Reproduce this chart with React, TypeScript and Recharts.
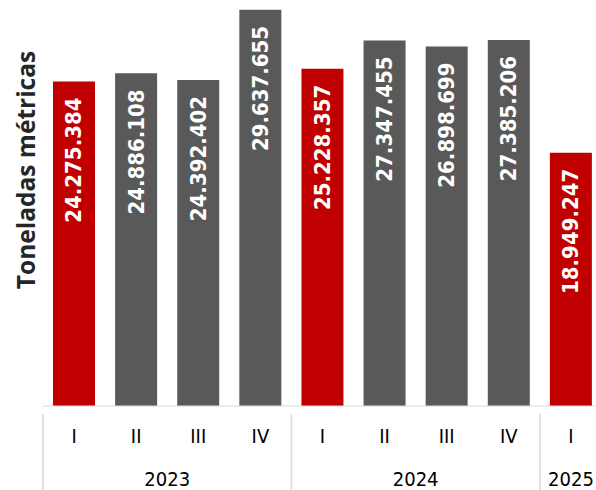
import React from 'react';
import { BarChart, Bar, XAxis, YAxis, Cell, LabelList } from 'recharts';

// quarterly volumes (metric tons)
const quarters = ['I', 'II', 'III', 'IV', 'I', 'II', 'III', 'IV', 'I'];
const years = ['2023', '2023', '2023', '2023', '2024', '2024', '2024', '2024', '2025'];
const volumes = [24275384, 24886108, 24392402, 29637655, 25228357, 27347455, 26898699, 27385206, 18949247];
const highlight = [true, false, false, false, true, false, false, false, true];

const data = quarters.map((q, i) => ({ q, year: years[i], value: volumes[i] }));

const CHART_W = 602;
const CHART_H = 490;
const LEFT = 43;
const BAND = (CHART_W - LEFT) / data.length;
const AXIS_FONT = '"DejaVu Sans Condensed", "DejaVu Sans", sans-serif';

const fmt = (v: number) => v.toLocaleString('en-US').replace(/,/g, '.');

const QuarterTick = (props: any) => {
    const { x, y, payload, index } = props;
    const i = payload?.index ?? index;
    const isGroupStart = i === 0 || years[i] !== years[i - 1];
    let yearLabel = null;
    let sep = null;
    if (isGroupStart) {
        const count = years.filter(yy => yy === years[i]).length;
        const left = x - BAND / 2;
        sep = <line x1={left} x2={left} y1={y} y2={CHART_H} stroke="#d9d9d9" strokeWidth={1.5} />;
        yearLabel = (
            <text x={left + (count * BAND) / 2} y={479} textAnchor="middle" dominantBaseline="central"
                fontFamily={AXIS_FONT} fontSize={20} fill="#000">
                {years[i]}
            </text>
        );
    }
    return (
        <g>
            {sep}
            <text x={x} y={436} textAnchor="middle" dominantBaseline="central"
                fontFamily={AXIS_FONT} fontSize={20} fill="#000">
                {payload.value}
            </text>
            {yearLabel}
        </g>
    );
};

const ValueLabel = (props: any) => {
    const { x, y, width, value } = props;
    const cx = x + width / 2;
    const ty = y + 16;
    return (
        <text x={cx} y={ty} transform={`rotate(-90 ${cx} ${ty})`} textAnchor="end" dominantBaseline="central"
            fontFamily={AXIS_FONT} fontWeight="bold" fontSize={22} fill="#fff">
            {fmt(value)}
        </text>
    );
};

export default function App() {
    return (
        <div style={{ position: 'absolute', left: 0, top: 0, width: 596, height: 490, overflow: 'hidden', background: '#fff' }}>
            <BarChart width={CHART_W} height={CHART_H} data={data}
                margin={{ top: 5, right: 0, left: LEFT, bottom: 0 }} barCategoryGap={0}>
                <XAxis dataKey="q" interval={0} tickLine={false} height={84}
                    axisLine={{ stroke: '#d9d9d9', strokeWidth: 1 }} tick={<QuarterTick />} />
                <YAxis hide domain={[0, 30000000]} />
                <Bar dataKey="value" barSize={42} isAnimationActive={false}>
                    {data.map((d, i) => (
                        <Cell key={i} fill={highlight[i] ? '#C00000' : '#595959'} />
                    ))}
                    <LabelList dataKey="value" content={<ValueLabel />} />
                </Bar>
            </BarChart>
            <div style={{
                position: 'absolute', left: 25, top: 170, transform: 'translate(-50%, -50%) rotate(-90deg)',
                whiteSpace: 'nowrap', fontFamily: '"Open Sans", sans-serif', fontWeight: 700, fontSize: 24.5, color: '#262626'
            }}>
                Toneladas métricas
            </div>
        </div>
    );
}
